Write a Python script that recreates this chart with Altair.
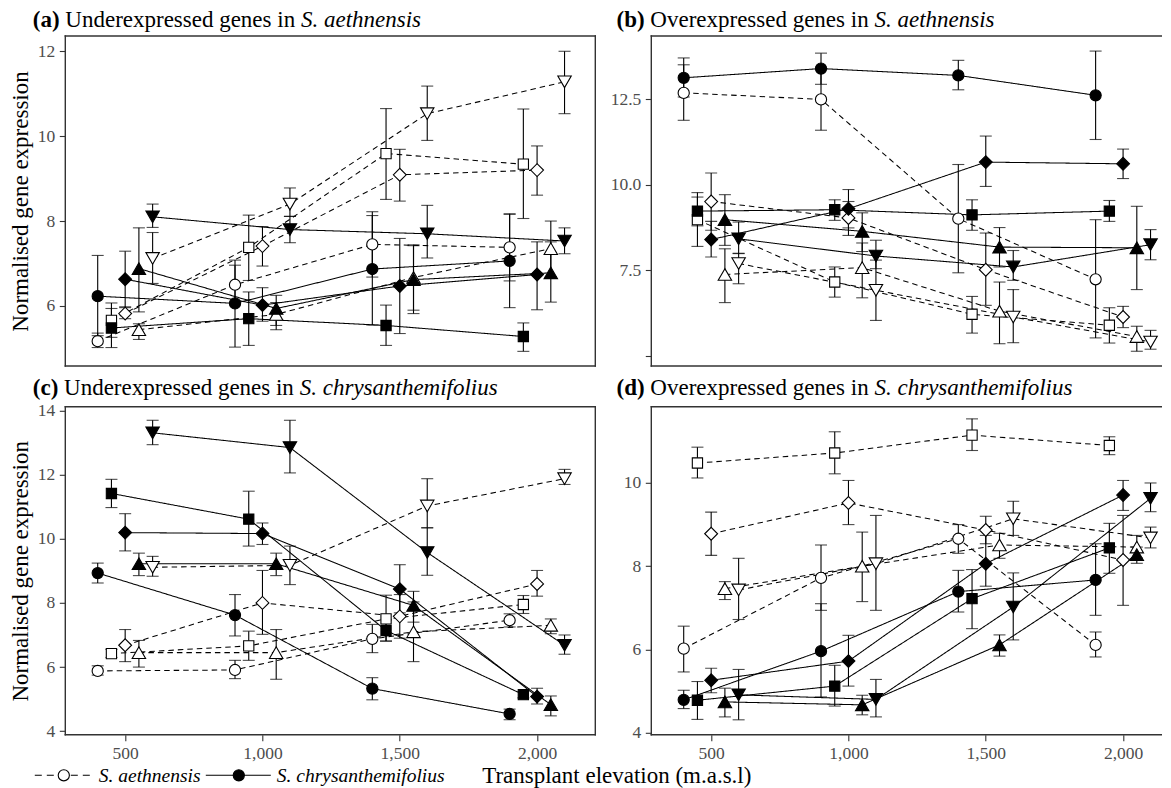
import altair as alt
import pandas as pd

# ---------------- data ----------------
ELEVATIONS = [500, 1000, 1500, 2000]
GENES = ["circle", "square", "diamond", "triangle-up", "triangle-down"]
DODGE = [-100, -50, 0, 50, 100]
SPECIES = ["S. aethnensis", "S. chrysanthemifolius"]

# (a) Underexpressed genes in S. aethnensis  (rows = genes, cols = elevations)
A_AETH_MEAN = [[5.17, 6.50, 7.45, 7.38], [5.66, 7.38, 9.59, 9.34], [5.82, 7.41, 9.09, 9.20], [5.44, 5.80, 6.67, 7.35], [7.12, 8.40, 10.53, 11.28]]
A_AETH_LO = [[5.02, 6.04, 6.68, 6.59], [5.26, 6.60, 8.51, 8.06], [5.70, 6.94, 8.47, 8.61], [5.21, 5.44, 5.90, 6.69], [6.53, 8.11, 9.90, 10.53]]
A_AETH_HI = [[5.36, 6.96, 8.22, 8.17], [6.07, 8.14, 10.65, 10.64], [5.98, 7.87, 9.69, 9.77], [5.58, 6.08, 7.44, 8.00], [7.73, 8.78, 11.18, 12.00]]
A_CHRY_MEAN = [[6.23, 6.06, 6.87, 7.06], [5.48, 5.70, 5.54, 5.28], [6.63, 6.02, 6.47, 6.74], [6.88, 5.94, 6.62, 6.78], [8.10, 7.80, 7.70, 7.53]]
A_CHRY_LO = [[5.30, 5.03, 5.55, 5.96], [5.02, 5.07, 5.07, 4.93], [5.96, 5.64, 5.35, 5.91], [5.86, 5.54, 5.82, 6.09], [7.85, 7.49, 7.13, 7.23]]
A_CHRY_HI = [[7.19, 7.08, 8.13, 8.16], [5.94, 6.33, 6.02, 5.60], [7.29, 6.43, 7.59, 7.51], [7.84, 6.25, 7.42, 7.51], [8.40, 8.11, 8.37, 7.84]]

# (b) Overexpressed genes in S. aethnensis
B_AETH_MEAN = [[12.68, 12.49, 9.01, 7.24], [8.98, 7.16, 6.22, 5.90], [9.51, 9.03, 7.52, 6.14], [7.38, 7.58, 6.31, 5.57], [7.70, 6.92, 6.14, 5.41]]
B_AETH_LO = [[11.88, 11.59, 7.43, 5.53], [8.20, 6.72, 5.67, 5.38], [8.67, 8.52, 6.48, 5.83], [6.56, 6.70, 5.36, 5.14], [7.11, 6.04, 5.39, 5.20]]
B_AETH_HI = [[13.50, 13.39, 10.59, 8.98], [9.77, 7.60, 6.74, 6.41], [10.34, 9.51, 8.59, 6.45], [8.13, 8.30, 7.16, 5.87], [8.00, 7.80, 6.94, 5.75]]
B_CHRY_MEAN = [[13.12, 13.39, 13.19, 12.61], [9.23, 9.27, 9.12, 9.23], [8.40, 9.30, 10.66, 10.61], [8.98, 8.64, 8.18, 8.16], [8.42, 7.92, 7.60, 8.25]]
B_CHRY_LO = [[12.56, 12.93, 12.77, 11.32], [8.80, 8.96, 8.67, 8.93], [7.89, 8.74, 9.95, 10.18], [8.23, 8.05, 7.60, 6.94], [7.99, 7.55, 7.21, 7.81]]
B_CHRY_HI = [[13.70, 13.84, 13.63, 13.90], [9.64, 9.56, 9.56, 9.54], [8.93, 9.86, 11.42, 11.04], [9.71, 9.18, 8.75, 9.37], [8.91, 8.38, 8.08, 8.69]]

# (c) Underexpressed genes in S. chrysanthemifolius
C_AETH_MEAN = [[5.88, 5.91, 6.88, 7.46], [6.42, 6.66, 7.50, 7.95], [6.68, 8.00, 7.58, 8.59], [6.45, 6.45, 7.10, 7.30], [9.11, 9.17, 11.02, 11.87]]
C_AETH_LO = [[5.75, 5.64, 6.45, 7.25], [6.30, 6.21, 6.81, 7.67], [6.17, 7.02, 6.90, 8.21], [6.00, 5.62, 6.17, 7.04], [8.83, 8.57, 10.34, 11.69]]
C_AETH_HI = [[6.04, 6.21, 7.33, 7.66], [6.55, 7.12, 8.24, 8.23], [7.17, 9.01, 8.26, 9.01], [6.83, 7.17, 8.03, 7.50], [9.45, 9.77, 11.87, 12.16]]
C_CHRY_MEAN = [[8.93, 7.62, 5.33, 4.54], [11.41, 10.61, 7.14, 5.14], [10.19, 10.16, 8.43, 5.08], [9.22, 9.22, 7.92, 4.83], [13.30, 12.84, 9.57, 6.68]]
C_CHRY_LO = [[8.62, 6.97, 4.98, 4.36], [10.97, 9.77, 6.81, 5.04], [9.62, 9.82, 7.69, 4.85], [8.85, 8.85, 7.40, 4.48], [12.93, 12.05, 8.86, 6.40]]
C_CHRY_HI = [[9.24, 8.26, 5.67, 4.69], [11.85, 11.48, 7.47, 5.24], [10.78, 10.49, 9.19, 5.34], [9.55, 9.55, 8.36, 5.10], [13.69, 13.69, 10.34, 7.00]]

# (d) Overexpressed genes in S. chrysanthemifolius
D_AETH_MEAN = [[6.02, 7.72, 8.66, 6.11], [10.48, 10.72, 11.15, 10.90], [8.78, 9.52, 8.87, 8.15], [7.46, 8.00, 8.51, 8.46], [7.43, 8.06, 9.14, 8.68]]
D_AETH_LO = [[5.46, 6.94, 8.31, 5.82], [10.12, 10.22, 10.78, 10.68], [8.26, 9.00, 8.54, 7.06], [7.20, 7.15, 8.19, 8.20], [6.72, 6.94, 8.74, 8.44]]
D_AETH_HI = [[6.56, 8.51, 9.00, 6.42], [10.86, 11.23, 11.54, 11.11], [9.30, 10.06, 9.20, 9.22], [7.63, 8.82, 8.79, 8.74], [8.19, 9.22, 9.56, 8.94]]
D_CHRY_MEAN = [[4.79, 5.96, 7.39, 7.67], [4.78, 5.12, 7.22, 8.44], [5.26, 5.72, 8.06, 9.71], [4.74, 4.67, 6.11, 8.28], [4.91, 4.80, 7.02, 9.63]]
D_CHRY_LO = [[4.58, 4.86, 6.90, 6.82], [4.32, 4.64, 6.50, 7.83], [4.96, 5.12, 7.52, 9.34], [4.38, 4.43, 5.84, 8.07], [4.31, 4.38, 6.23, 9.31]]
D_CHRY_HI = [[5.02, 7.10, 7.90, 8.54], [5.23, 5.62, 7.92, 9.03], [5.55, 6.34, 8.74, 10.06], [5.07, 4.90, 6.35, 8.46], [5.52, 5.28, 7.84, 10.00]]

Y_TICKS_A = [6, 8, 10, 12]
Y_TICKS_B = [5, 7.5, 10, 12.5]
Y_TICKS_C = [4, 6, 8, 10, 12, 14]
Y_TICKS_D = [4, 6, 8, 10]

# ---------------- layout / style ----------------
FONT = "Liberation Serif"
W_L = 530                  # left panels
W_R = 510                  # right panels (cut at the page edge, like the cropped original)
PX_PER_M = W_L / (2212 - 282)
XDOM_L = [282, 2212]
XDOM_R = [282, 282 + W_R / PX_PER_M]
H_TOP = 330
H_BOT = 328
TITLE_SIZE = 23
LEGEND_SIZE = 19.5
SHAPE_SIZES = [125, 105, 165, 180, 180]
ONE = pd.DataFrame({"k": [0]})

# Times / Liberation Serif advance widths (per 1000 em) for title layout
REG = {" ": 250, "(": 333, ")": 333, ".": 250, "a": 444, "b": 500, "c": 444, "d": 500, "e": 444,
       "g": 500, "h": 500, "i": 278, "n": 500, "O": 722, "p": 500, "r": 333, "s": 389, "t": 278,
       "U": 722, "v": 500, "x": 500}
BOLD = {"(": 333, ")": 333, "a": 500, "b": 556, "c": 444, "d": 556}


def tw(s, table, size):
    return sum(table.get(ch, 500) for ch in s) * size / 1000.0


def make_df(m_ae, lo_ae, hi_ae, m_ch, lo_ch, hi_ch):
    rows = []
    for sp, (M, L, U) in zip(SPECIES, [(m_ae, lo_ae, hi_ae), (m_ch, lo_ch, hi_ch)]):
        for gi, g in enumerate(GENES):
            for ei, e in enumerate(ELEVATIONS):
                rows.append(dict(species=sp, gene=g, series=sp + "-" + g,
                                 x=e + DODGE[gi], mean=M[gi][ei], lo=L[gi][ei], hi=U[gi][ei]))
    return pd.DataFrame(rows)


def panel(df, ydom, yticks, height, letter, middle, species_it, show_x, left, y_label_expr=None,
          y_format="d", title_dx=-32.5, title_dy=-9.5, extra=None):
    width = W_L if left else W_R
    xs = alt.Scale(domain=XDOM_L if left else XDOM_R, nice=False, zero=False)
    ys = alt.Scale(domain=ydom, nice=False, zero=False)
    if show_x:
        xaxis = alt.Axis(values=ELEVATIONS, format=",d", title=None)
    else:
        xaxis = None
    yaxis_kw = dict(values=yticks, format=y_format,
                    title="Normalised gene expression" if left else None)
    if y_label_expr:
        yaxis_kw["labelExpr"] = y_label_expr
    yaxis = alt.Axis(**yaxis_kw)

    X = alt.X("x:Q", scale=xs, axis=xaxis)
    base = alt.Chart(df)

    lines = base.mark_line(color="black", strokeWidth=1.05).encode(
        x=X,
        y=alt.Y("mean:Q", scale=ys, axis=yaxis),
        detail="series:N",
        strokeDash=alt.StrokeDash("species:N", scale=alt.Scale(domain=SPECIES, range=[[5.5, 4], [1, 0]]),
                                  legend=None),
    )
    bars = base.mark_rule(color="black", strokeWidth=1.1).encode(
        x=X, y=alt.Y("lo:Q", scale=ys), y2="hi:Q")
    cap_lo = base.mark_tick(orient="horizontal", color="black", thickness=1.1, size=12).encode(
        x=X, y=alt.Y("lo:Q", scale=ys))
    cap_hi = base.mark_tick(orient="horizontal", color="black", thickness=1.1, size=12).encode(
        x=X, y=alt.Y("hi:Q", scale=ys))

    layers = [lines, bars, cap_lo, cap_hi]

    # one point layer per gene shape (open = S. aethnensis, filled = S. chrysanthemifolius)
    for gi, g in enumerate(GENES):
        layers.append(
            base.transform_filter(alt.datum.gene == g).mark_point(
                shape=g, size=SHAPE_SIZES[gi], filled=True, stroke="black", strokeWidth=1.1, opacity=1
            ).encode(
                x=X,
                y=alt.Y("mean:Q", scale=ys),
                fill=alt.Fill("species:N", scale=alt.Scale(domain=SPECIES, range=["white", "black"]),
                              legend=None),
            )
        )

    # panel border (right side cut off for right-hand panels, as in the cropped original)
    b = alt.Chart(ONE)
    bstyle = dict(color="#333333", strokeWidth=1.4, strokeCap="square")
    layers.append(b.mark_rule(**bstyle).encode(x=alt.value(0), x2=alt.value(width), y=alt.value(0)))
    layers.append(b.mark_rule(**bstyle).encode(x=alt.value(0), x2=alt.value(width), y=alt.value(height)))
    layers.append(b.mark_rule(**bstyle).encode(x=alt.value(0), y=alt.value(0), y2=alt.value(height)))
    if left:
        layers.append(b.mark_rule(**bstyle).encode(x=alt.value(width), y=alt.value(0), y2=alt.value(height)))

    # panel title: bold letter, plain text, italic species
    x0 = title_dx
    x1 = x0 + tw(letter, BOLD, TITLE_SIZE) + tw(" ", REG, TITLE_SIZE)
    x2 = x1 + tw(middle, REG, TITLE_SIZE) + tw(" ", REG, TITLE_SIZE)
    tkw = dict(font=FONT, fontSize=TITLE_SIZE, align="left", baseline="alphabetic", color="black")
    layers.append(b.mark_text(text=letter, fontWeight="bold", **tkw).encode(x=alt.value(x0), y=alt.value(title_dy)))
    layers.append(b.mark_text(text=middle, **tkw).encode(x=alt.value(x1), y=alt.value(title_dy)))
    layers.append(b.mark_text(text=species_it, fontStyle="italic", **tkw).encode(x=alt.value(x2), y=alt.value(title_dy)))

    if extra:
        layers.extend(extra)

    return alt.layer(*layers).properties(width=width, height=height)


def legend_layers():
    b = alt.Chart(ONE)
    ly = 368.5
    tb = 375.5
    out = []
    out.append(b.mark_rule(color="black", strokeWidth=1.1, strokeDash=[7, 5]).encode(
        x=alt.value(-30.5), x2=alt.value(27.5), y=alt.value(ly)))
    out.append(b.mark_point(shape="circle", size=125, filled=True, fill="white", stroke="black",
                            strokeWidth=1.1, opacity=1).encode(x=alt.value(-1.5), y=alt.value(ly)))
    out.append(b.mark_text(text=SPECIES[0], font=FONT, fontSize=LEGEND_SIZE, fontStyle="italic",
                           align="left", baseline="alphabetic", color="black").encode(
        x=alt.value(33.5), y=alt.value(tb)))
    out.append(b.mark_rule(color="black", strokeWidth=1.1).encode(
        x=alt.value(140.5), x2=alt.value(205.5), y=alt.value(ly)))
    out.append(b.mark_point(shape="circle", size=125, filled=True, fill="black", stroke="black",
                            strokeWidth=1.1, opacity=1).encode(x=alt.value(173.5), y=alt.value(ly)))
    out.append(b.mark_text(text=SPECIES[1], font=FONT, fontSize=LEGEND_SIZE, fontStyle="italic",
                           align="left", baseline="alphabetic", color="black").encode(
        x=alt.value(211.5), y=alt.value(tb)))
    out.append(b.mark_text(text="Transplant elevation (m.a.s.l)", font=FONT, fontSize=TITLE_SIZE,
                           align="center", baseline="alphabetic", color="black").encode(
        x=alt.value(551.5), y=alt.value(376.5)))
    return out


df_a = make_df(A_AETH_MEAN, A_AETH_LO, A_AETH_HI, A_CHRY_MEAN, A_CHRY_LO, A_CHRY_HI)
df_b = make_df(B_AETH_MEAN, B_AETH_LO, B_AETH_HI, B_CHRY_MEAN, B_CHRY_LO, B_CHRY_HI)
df_c = make_df(C_AETH_MEAN, C_AETH_LO, C_AETH_HI, C_CHRY_MEAN, C_CHRY_LO, C_CHRY_HI)
df_d = make_df(D_AETH_MEAN, D_AETH_LO, D_AETH_HI, D_CHRY_MEAN, D_CHRY_LO, D_CHRY_HI)

pa = panel(df_a, [4.585, 12.36], Y_TICKS_A, H_TOP, "(a)", "Underexpressed genes in", "S. aethnensis",
           show_x=False, left=True)
pb = panel(df_b, [4.71, 14.34], Y_TICKS_B, H_TOP, "(b)", "Overexpressed genes in", "S. aethnensis",
           show_x=False, left=False, y_label_expr="datum.value == 5 ? '' : format(datum.value, '.1f')",
           y_format=".1f", title_dx=-34.8)
pc = panel(df_c, [3.89, 14.11], Y_TICKS_C, H_BOT, "(c)", "Underexpressed genes in",
           "S. chrysanthemifolius", show_x=True, left=True, title_dy=-11.7, extra=legend_layers())
pd_ = panel(df_d, [3.95, 11.83], Y_TICKS_D, H_BOT, "(d)", "Overexpressed genes in",
            "S. chrysanthemifolius", show_x=True, left=False, title_dx=-34.8, title_dy=-11.7)

chart = alt.concat(pa, pb, pc, pd_, columns=2, spacing={"row": 40.8, "column": 56},
                   bounds="flush").resolve_scale(x="independent", y="independent").properties(
    padding={"left": 1.3, "top": 0, "right": 0, "bottom": 0}
).configure(font=FONT).configure_view(strokeWidth=0).configure_axis(
    labelFont=FONT, labelFontSize=17.5, labelColor="#4D4D4D", tickColor="#333333", tickSize=6,
    tickWidth=1.1, domain=False, grid=False, titleFont=FONT, titleFontSize=TITLE_SIZE,
    titleFontWeight="normal", titleColor="black", titlePadding=5
).configure_axisX(labelPadding=4).configure_axisY(labelPadding=4.5)

chart.save("out.html", embed_options={"renderer": "svg", "actions": False})
